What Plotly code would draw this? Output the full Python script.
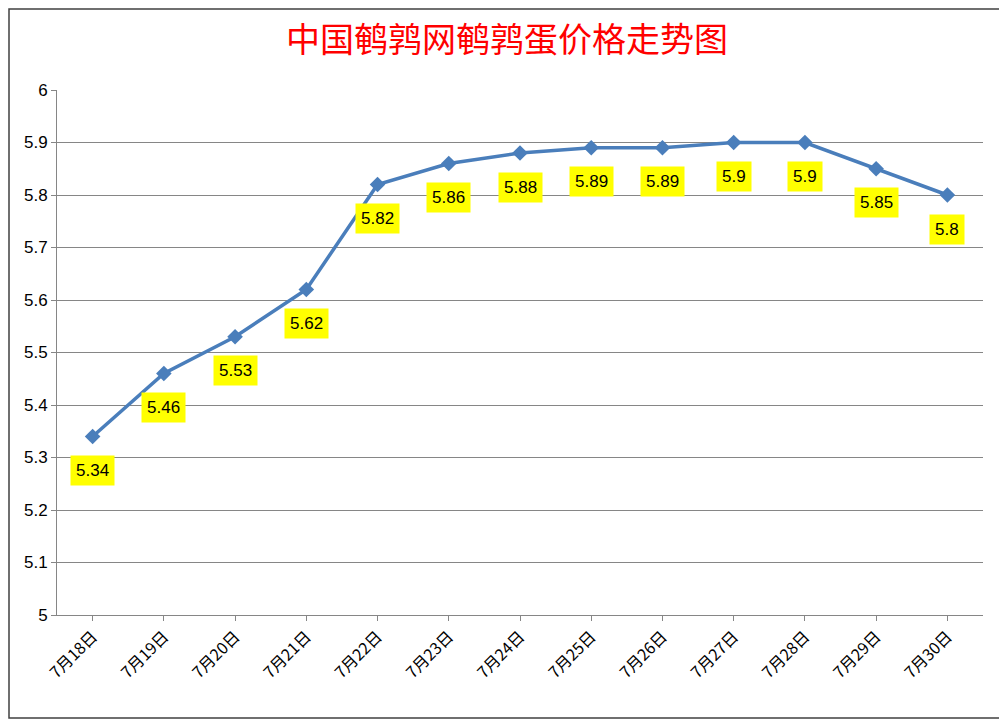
import plotly.graph_objects as go

dates = ["7月18日","7月19日","7月20日","7月21日","7月22日","7月23日","7月24日","7月25日","7月26日","7月27日","7月28日","7月29日","7月30日"]
prices = [5.34,5.46,5.53,5.62,5.82,5.86,5.88,5.89,5.89,5.9,5.9,5.85,5.8]
labels = ["5.34","5.46","5.53","5.62","5.82","5.86","5.88","5.89","5.89","5.9","5.9","5.85","5.8"]

fig = go.Figure(go.Scatter(x=dates, y=prices, mode="lines+markers",
    line=dict(color="#4a7ebb", width=3.5),
    marker=dict(symbol="diamond", size=12, color="#4a7ebb")))

for d, p, t in zip(dates, prices, labels):
    fig.add_annotation(x=d, y=p, text=t, showarrow=False, yshift=-34,
                       bgcolor="#ffff00", font=dict(size=17, color="black", family="Liberation Sans"),
                       borderpad=5)

W, H, L, R, T, B = 998, 711, 49, 23, 82, 104
pw, ph = W - L - R, H - T - B
fig.update_layout(
    width=W, height=H, paper_bgcolor="white", plot_bgcolor="white",
    margin=dict(l=L, r=R, t=T, b=B),
    title=dict(text="中国鹌鹑网鹌鹑蛋价格走势图", x=0.5, xanchor="center", y=1 - 32 / H, yanchor="middle",
               font=dict(size=34, color="#ff0000", family="Noto Sans CJK SC")),
    showlegend=False,
    xaxis=dict(range=[-0.5, 12.5], tickangle=-45, showgrid=False, showline=True,
               linecolor="#868686", ticks="outside", tickcolor="#868686",
               tickfont=dict(size=16, color="black", family="Noto Sans CJK SC")),
    yaxis=dict(range=[5, 6], dtick=0.1, tickformat="~g", showgrid=True, gridcolor="#868686",
               showline=True, linecolor="#868686", ticks="outside", tickcolor="#868686",
               tickfont=dict(size=17, color="black", family="Liberation Sans")),
)
fig.add_shape(type="rect", xref="paper", yref="paper",
              x0=-(L - 1) / pw, x1=1 + (R - 1) / pw, y0=-(B - 1) / ph, y1=1 + (T - 1) / ph,
              line=dict(color="#404040", width=1.5))
fig.write_html("out.html")
